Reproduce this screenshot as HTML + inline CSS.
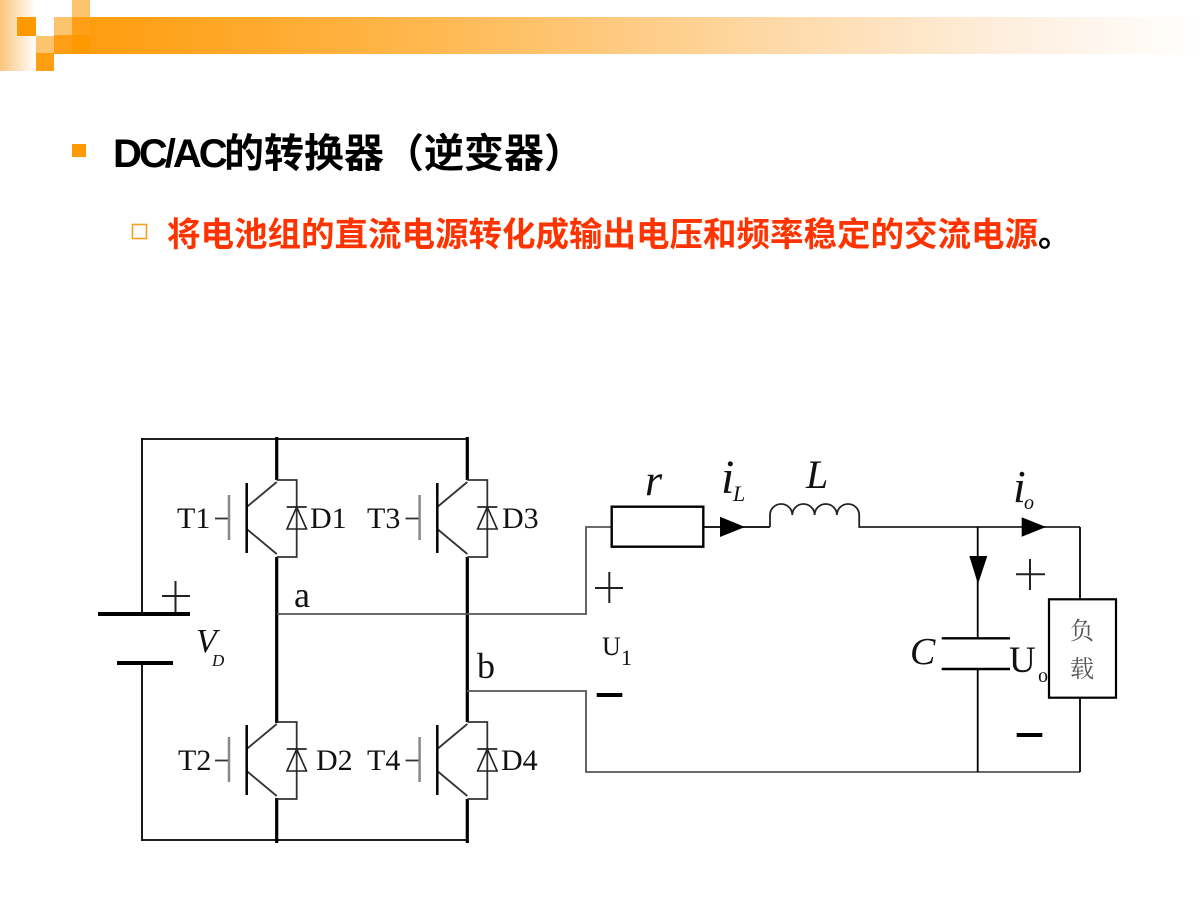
<!DOCTYPE html>
<html><head><meta charset="utf-8"><style>
html,body{margin:0;padding:0;background:#fff;width:1200px;height:900px;overflow:hidden}
svg{display:block}
.ser{font-family:"Liberation Serif","Noto Serif CJK SC",serif}
</style></head><body>
<svg width="1200" height="900" viewBox="0 0 1200 900" xmlns="http://www.w3.org/2000/svg">
<defs>
<linearGradient id="band" x1="54" y1="0" x2="1200" y2="0" gradientUnits="userSpaceOnUse">
<stop offset="0" stop-color="#ff9a08"/><stop offset="0.3" stop-color="#ffb548"/><stop offset="0.58" stop-color="#fed49a"/><stop offset="0.83" stop-color="#feeedd"/><stop offset="1" stop-color="#ffffff"/>
</linearGradient>
<linearGradient id="strip" x1="0" y1="0" x2="36" y2="0" gradientUnits="userSpaceOnUse">
<stop offset="0" stop-color="#fcc47a"/><stop offset="1" stop-color="#ffffff"/>
</linearGradient>
</defs>
<!-- header decoration -->
<rect x="54" y="17" width="1146" height="37" fill="url(#band)"/>
<rect x="0" y="0" width="36" height="71" fill="url(#strip)"/>
<rect x="17" y="17" width="19" height="19" fill="#ff9900"/>
<rect x="36" y="36" width="18" height="17" fill="#fdc46e"/>
<rect x="36" y="53" width="18" height="18" fill="#ff9e10"/>
<rect x="54" y="17" width="18" height="18" fill="#fdc46e"/>
<rect x="54" y="35" width="18" height="19" fill="#ff9e14"/>
<rect x="72" y="0" width="18" height="17" fill="#fdc46e"/>
<rect x="72" y="17" width="18" height="18" fill="#ffa018"/>
<rect x="72" y="35" width="18" height="19" fill="#ff9900"/>

<!-- heading -->
<rect x="72" y="144" width="14" height="13" fill="#ff9900"/>
<text y="167" font-size="40" font-weight="bold" fill="#000" style="font-family:'Liberation Sans','Noto Sans CJK SC',sans-serif"><tspan x="113" letter-spacing="-3">DC/AC</tspan><tspan x="224">的转换器（逆变器）</tspan></text>
<rect x="132.5" y="224.5" width="14" height="14" fill="none" stroke="#f5a020" stroke-width="1.6"/>
<text x="167" y="246" font-size="33.5" font-weight="bold" fill="#ff3300" style="font-family:'Liberation Sans','Noto Sans CJK SC',sans-serif">将电池组的直流电源转化成输出电压和频率稳定的交流电源<tspan fill="#000">。</tspan></text>

<!-- circuit wires -->
<g stroke="#000" stroke-width="1.8" fill="none" stroke-linecap="square">
<line x1="142" y1="439" x2="467" y2="439"/>
<line x1="142" y1="840" x2="467" y2="840"/>
<line x1="142" y1="439" x2="142" y2="614"/>
<line x1="142" y1="663" x2="142" y2="840"/>
</g>
<!-- battery -->
<line x1="98" y1="614" x2="190" y2="614" stroke="#000" stroke-width="4"/>
<line x1="117" y1="663" x2="173" y2="663" stroke="#000" stroke-width="4"/>
<g stroke="#222" stroke-width="2">
<line x1="162" y1="596" x2="190" y2="596"/>
<line x1="175.5" y1="581" x2="175.5" y2="612"/>
</g>
<!-- thick columns -->
<g stroke="#000" stroke-width="3.2">
<line x1="276.7" y1="437" x2="276.7" y2="480"/>
<line x1="276.7" y1="557" x2="276.7" y2="723"/>
<line x1="276.7" y1="798" x2="276.7" y2="843"/>
<line x1="467.3" y1="437" x2="467.3" y2="480"/>
<line x1="467.3" y1="557" x2="467.3" y2="722"/>
<line x1="467.3" y1="799" x2="467.3" y2="843"/>
</g>

<!-- transistor T1 (C=276.7, yc=518.5) -->
<g id="t1">
<g stroke="#333" stroke-width="1.8" fill="none">
<polyline points="276.7,480 296.7,480 296.7,557 276.7,557"/>
<line x1="246.7" y1="507" x2="276.7" y2="482"/>
<line x1="246.7" y1="529" x2="276.7" y2="554"/>
<line x1="215" y1="518.5" x2="229" y2="518.5"/>
</g>
<line x1="246.7" y1="483" x2="246.7" y2="553" stroke="#000" stroke-width="2.5"/>
<line x1="229" y1="495" x2="229" y2="540" stroke="#888" stroke-width="2.5"/>
<line x1="286.7" y1="507" x2="306.7" y2="507" stroke="#222" stroke-width="1.8"/>
<polygon points="296.7,507 287,529 306.5,529" fill="none" stroke="#222" stroke-width="1.6"/>
</g>
<use href="#t1" x="190.6" y="0"/>
<use href="#t1" x="0" y="242"/>
<use href="#t1" x="190.6" y="242"/>

<!-- labels transistors -->
<g class="ser" font-size="30" fill="#111">
<text x="177" y="528">T1</text>
<text x="310" y="528">D1</text>
<text x="367" y="528">T3</text>
<text x="502" y="528">D3</text>
<text x="178" y="770">T2</text>
<text x="316" y="770">D2</text>
<text x="367" y="770">T4</text>
<text x="501" y="770">D4</text>
</g>
<g class="ser" font-size="36" fill="#111">
<text x="294" y="607">a</text>
<text x="477" y="678">b</text>
</g>
<text class="ser" x="196" y="652" font-size="34" font-style="italic" fill="#111">V</text>
<text class="ser" x="212" y="666" font-size="17" font-style="italic" fill="#111">D</text>

<!-- a / b wires -->
<g stroke="#555" stroke-width="1.8" fill="none">
<polyline points="277,614 586,614 586,527 612,527"/>
<polyline points="467,691 586,691 586,772 1080,772"/>
</g>

<!-- U1 -->
<g stroke="#222" stroke-width="2">
<line x1="595" y1="588" x2="623" y2="588"/>
<line x1="609.3" y1="572" x2="609.3" y2="603"/>
</g>
<rect x="596.7" y="693" width="25.6" height="4" fill="#000"/>
<text class="ser" x="602" y="655" font-size="26" fill="#111">U</text>
<text class="ser" x="621" y="665" font-size="22" fill="#111">1</text>

<!-- resistor, arrow, inductor -->
<rect x="611.7" y="506.7" width="91.6" height="40" fill="none" stroke="#000" stroke-width="2.4"/>
<line x1="703" y1="527" x2="770" y2="527" stroke="#000" stroke-width="1.8"/>
<polygon points="720,516.7 745,527 720,537" fill="#000"/>
<path d="M770 527 V515 a11.15 11 0 0 1 22.3 0 a11.15 11 0 0 1 22.3 0 a11.15 11 0 0 1 22.3 0 a11.15 11 0 0 1 22.3 0 V527 H1080" fill="none" stroke="#222" stroke-width="1.8"/>
<text class="ser" x="645" y="495" font-size="44" font-style="italic" fill="#111">r</text>
<text class="ser" x="721" y="493" font-size="48" font-style="italic" fill="#111">i</text>
<text class="ser" x="733" y="501" font-size="22" font-style="italic" fill="#111">L</text>
<text class="ser" x="806" y="488" font-size="40" font-style="italic" fill="#111">L</text>

<!-- capacitor branch -->
<g stroke="#000" stroke-width="1.8" fill="none">
<line x1="977.7" y1="527" x2="977.7" y2="638"/>
<line x1="977.7" y1="669" x2="977.7" y2="772"/>
<line x1="1080" y1="527" x2="1080" y2="599.3"/>
<line x1="1080" y1="697.7" x2="1080" y2="772"/>
</g>
<line x1="941.7" y1="638.3" x2="1010" y2="638.3" stroke="#000" stroke-width="2.4"/>
<line x1="941.7" y1="669" x2="1010" y2="669" stroke="#000" stroke-width="2.4"/>
<polygon points="969.3,556 987.3,556 978,584" fill="#000"/>
<polygon points="1021.7,517.3 1046,527 1021.7,536.7" fill="#000"/>
<rect x="1049" y="599.3" width="67" height="98.4" fill="#fff" stroke="#000" stroke-width="2.2"/>
<text x="1082" y="639" font-size="24" fill="#555" text-anchor="middle" style="font-family:'Noto Serif CJK SC','Noto Sans CJK SC',serif">负</text>
<text x="1082" y="677" font-size="24" fill="#555" text-anchor="middle" style="font-family:'Noto Serif CJK SC','Noto Sans CJK SC',serif">载</text>
<text class="ser" x="1013" y="502" font-size="46" font-style="italic" fill="#111">i</text>
<text class="ser" x="1024" y="509" font-size="20" font-style="italic" fill="#111">o</text>
<g stroke="#222" stroke-width="2">
<line x1="1016" y1="574.3" x2="1045" y2="574.3"/>
<line x1="1030" y1="559" x2="1030" y2="590"/>
</g>
<rect x="1016.7" y="733" width="25.6" height="4" fill="#000"/>
<text class="ser" x="910" y="664" font-size="38" font-style="italic" fill="#111">C</text>
<text class="ser" x="1009" y="672" font-size="37" fill="#111">U</text>
<text class="ser" x="1038" y="682" font-size="20" fill="#111">o</text>
</svg>
</body></html>
